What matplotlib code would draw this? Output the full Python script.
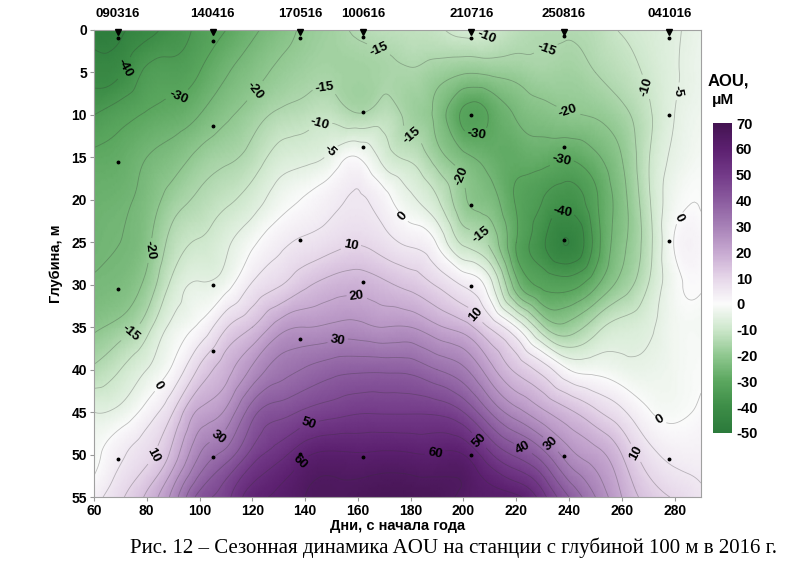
import matplotlib
matplotlib.use('Agg')
import matplotlib.pyplot as plt
import matplotlib.tri as mtri
from matplotlib.colors import LinearSegmentedColormap, Normalize
import numpy as np

plt.rcParams['font.family'] = 'Liberation Sans'
plt.rcParams['axes.unicode_minus'] = False
plt.rcParams['contour.negative_linestyle'] = 'solid'

# grid read from the section: days x depths, AOU in uM
days = [60, 70, 80, 90, 100, 110, 120, 130, 140, 150, 160, 170,
        180, 190, 200, 210, 220, 230, 240, 250, 260, 270, 280, 290]
depths = [0, 5, 10, 15, 20, 25, 30, 35, 40, 45, 50, 55]

aou_d0 = [-48, -46, -42, -38, -33.5, -30, -26, -22.5, -19, -17, -14, -12.5,
          -12, -11, -8, -9, -12.5, -14, -14, -13, -9.5, -7.5, -5.5, -3.5]
aou_d5 = [-42, -40.5, -34, -33, -30, -25.5, -22, -19, -17, -16.4, -17, -16,
          -15.5, -17.5, -19.5, -19, -18, -16.5, -17, -15, -12.5, -9, -5.5, -3]
aou_d10 = [-35, -32, -29.5, -28, -25, -21, -17.5, -14, -12.5, -11.5, -14.5, -12.5,
           -17, -21.5, -31, -29.5, -24.5, -22, -20.5, -19.5, -16.5, -11, -5, -2.5]
aou_d15 = [-29, -28, -25, -22.5, -18.5, -16, -13, -8, -6.5, -3.5, 0, -7,
           -11, -17.5, -23.5, -27, -28.5, -28, -29.5, -26, -20, -10.5, -4, -1.5]
aou_d20 = [-27, -26, -23, -17.5, -14, -11, -7.5, -2.5, 0.5, 3.5, 5.5, 2,
           -4, -9.5, -19, -23, -30.5, -35, -38, -31, -22, -11, -2, -0.3]
aou_d25 = [-26, -25, -21.5, -13, -9.5, -6, -1, 3.5, 6, 8, 9.5, 7,
           4, -0.5, -11, -16, -30, -39, -45, -33, -21.5, -12, 0.3, 1.5]
aou_d30 = [-24.5, -23.5, -18.5, -8.5, -4.5, -2, 5.5, 9.5, 14, 17, 18, 16,
           13.5, 9.5, 4.5, -3, -23, -31, -32, -26, -18, -10, -1.5, 0.3]
aou_d35 = [-21, -18, -12, -3.5, 1, 9.5, 15, 22.5, 25, 26, 26.5, 25,
           25, 21, 17.5, 9.5, 0, -14, -18, -12, -8, -6, -2, -1.5]
aou_d40 = [-14, -10, -5, 1, 11, 18, 26, 32.5, 35.5, 38, 39, 39,
           38.5, 35, 31, 22, 14, 8, 0, -1.5, -3, -3.5, -2, -0.5]
aou_d45 = [-5, -3.5, 2, 10, 21, 26, 38, 43, 46, 48, 49.5, 49.5,
           49.5, 49, 45, 35, 27, 21, 16, 11, 6, 0.5, -1, 0.8]
aou_d50 = [-1.5, 4, 8.5, 17, 30, 37, 47, 53, 59, 61, 60.5, 61,
           60.5, 60.5, 60, 51, 44, 37, 27, 22, 15, 7, 3.5, 3]
aou_d55 = [3, 9, 16, 27, 42, 48, 58, 61, 65, 66, 67, 68,
           68, 67, 64, 62, 61, 52, 40, 30, 20, 13, 9.5, 6]

# stations
station_days = [69, 105, 138, 162, 203, 238, 278]
station_names = ['090316', '140416', '170516', '100616', '210716', '250816', '041016']

# sampling points
sample_days = [69, 69, 69, 69,
               105, 105, 105, 105, 105,
               138, 138, 138, 138,
               162, 162, 162, 162, 162,
               203, 203, 203, 203, 203,
               238, 238, 238, 238,
               278, 278, 278, 278]
sample_depths = [1, 15.5, 30.5, 50.5,
                 1.3, 11.3, 30, 37.8, 50.3,
                 1, 24.7, 36.4, 49.9,
                 0.8, 9.6, 13.8, 29.7, 50.3,
                 1, 10, 20.6, 30.2, 50,
                 0.7, 13.8, 24.7, 50.2,
                 1, 10, 24.8, 50.5]

cbar_ticks = [-50, -40, -30, -20, -10, 0, 10, 20, 30, 40, 50, 60, 70]
cbar_colors = ['#2b7a3b', '#3d8d47', '#5ba75f', '#90c890', '#cde7cb', '#fbfbfb',
               '#e6d6e9', '#c7a9d1', '#a781b7', '#8b5c9f', '#733a88', '#5c2070', '#441452']
label_levels = [-40, -30, -20, -15, -10, -5, 0, 10, 20, 30, 40, 50, 60]
plain_levels = [-45, -35, -25, 5, 15, 25, 35, 45, 55, 65]

Z = np.array([aou_d0, aou_d5, aou_d10, aou_d15, aou_d20, aou_d25,
              aou_d30, aou_d35, aou_d40, aou_d45, aou_d50, aou_d55])
X, Y = np.meshgrid(days, depths)

vmin, vmax = -50, 70
pos = [(t - vmin) / (vmax - vmin) for t in cbar_ticks]
cmap = LinearSegmentedColormap.from_list('aou', list(zip(pos, cbar_colors)))
norm = Normalize(vmin, vmax)

tri = mtri.Triangulation(X.ravel(), Y.ravel())
refiner = mtri.UniformTriRefiner(tri)
tri_r, z_r = refiner.refine_field(Z.ravel(), subdiv=4)

fig = plt.figure(figsize=(7.99, 5.78), dpi=100)
ax = fig.add_axes([0.1176, 0.1401, 0.7597, 0.808])

ax.tripcolor(tri_r, z_r, shading='gouraud', cmap=cmap, norm=norm)
line_style = dict(colors='#333333', linewidths=0.6, alpha=0.3)
ax.tricontour(tri_r, z_r, levels=plain_levels, **line_style)
cs = ax.tricontour(tri_r, z_r, levels=label_levels, **line_style)

# label spots along the lines
label_spots = [(74, 4.9), (92, 8), (122, 7.4), (82, 26), (75, 36), (85, 42),
               (82, 50), (108, 48.3), (165.8, 3.8), (147.5, 6.9), (146, 11.4),
               (149, 14.1), (181.6, 12), (177.8, 21.8), (157, 25), (159.6, 31.4),
               (152.6, 37), (142, 47), (139, 51.2), (210, 1.8), (205, 12.6),
               (197.5, 17.4), (207, 24), (235, 4.7), (239.5, 9.7), (237.7, 16.1),
               (237.5, 21.4), (266.8, 6.9), (284.6, 7.4), (284.6, 22.6),
               (205.5, 33.3), (189, 49.6), (207, 48), (223, 49), (234, 48.5),
               (267, 49.5), (274.4, 46)]
labels = ax.clabel(cs, manual=label_spots, fmt='%d', fontsize=9.5,
                   inline=True, inline_spacing=3, colors='black')
for t in labels:
    t.set_fontweight('bold')
    t.set_alpha(1)

ax.plot(sample_days, sample_depths, 'o', ms=1.8, color='black', zorder=5)
ax.plot(station_days, [0.25] * len(station_days), 'v', ms=5, color='black',
        clip_on=False, zorder=6)
for d, name in zip(station_days, station_names):
    ax.text(d, -1.2, name, ha='center', va='bottom', fontsize=9.5,
            fontweight='bold', clip_on=False)

ax.set_xlim(60, 290)
ax.set_ylim(55, 0)
ax.set_xticks(range(60, 281, 20))
ax.set_yticks(range(0, 56, 5))
ax.tick_params(direction='out', length=3, color='#999999', labelsize=10, pad=2)
for lab in ax.get_xticklabels() + ax.get_yticklabels():
    lab.set_fontweight('bold')
for s in ax.spines.values():
    s.set_color('#a0a0a0')
    s.set_linewidth(0.8)

ax.set_xlabel('Дни, с начала года', fontsize=10.5, fontweight='bold', labelpad=1)
ax.set_ylabel('Глубина, м', fontsize=10.5, fontweight='bold', labelpad=6)

cax = fig.add_axes([0.892, 0.251, 0.0238, 0.536])
cb = fig.colorbar(plt.cm.ScalarMappable(norm=norm, cmap=cmap), cax=cax, ticks=cbar_ticks)
cb.outline.set_visible(False)
cax.tick_params(length=0, labelsize=10.5, pad=3)
for lab in cax.get_yticklabels():
    lab.set_fontweight('bold')

fig.text(0.885, 1 - 81 / 578, 'AOU,', fontsize=12, fontweight='bold', va='center')
fig.text(0.891, 1 - 100 / 578, 'μM', fontsize=11, fontweight='bold', va='center')

fig.text(0.568, 0.052, 'Рис. 12 – Сезонная динамика AOU на станции с глубиной 100 м в 2016 г.',
         ha='center', va='center', fontsize=15, family='Liberation Serif')

fig.savefig('out.png', dpi=100)
